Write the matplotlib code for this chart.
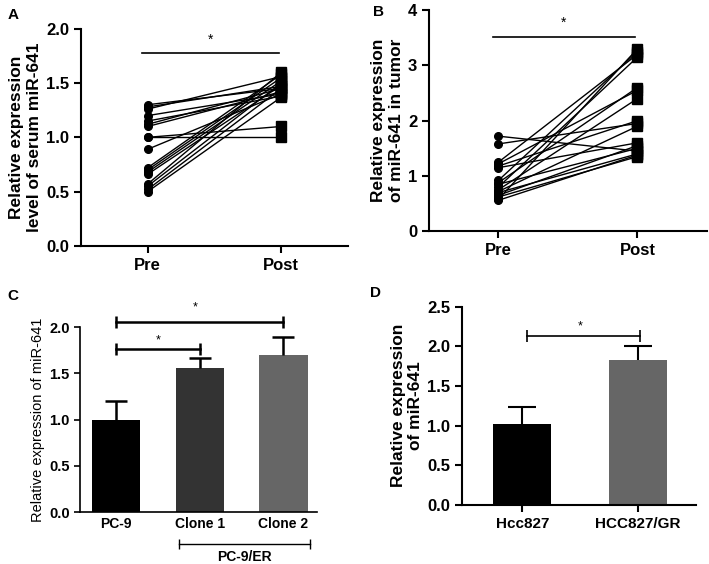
import numpy as np
import matplotlib
matplotlib.use("Agg")
import matplotlib.pyplot as plt

plt.rcParams['font.family'] = ['Liberation Sans', 'DejaVu Sans']

# A: serum miR-641, paired pre/post
a_pre = [1.30, 1.28, 1.26, 1.20, 1.15, 1.12, 1.10, 1.00, 1.00, 0.89,
         0.72, 0.70, 0.68, 0.66, 0.57, 0.55, 0.52, 0.50]
a_post = [1.45, 1.47, 1.56, 1.40, 1.38, 1.45, 1.42, 1.10, 1.00, 1.40,
          1.58, 1.55, 1.52, 1.48, 1.60, 1.50, 1.45, 1.37]

# B: tumor miR-641, paired pre/post
b_pre = [1.72, 1.58, 1.25, 1.22, 1.18, 1.15, 0.92, 0.88, 0.85, 0.80,
         0.75, 0.72, 0.70, 0.65, 0.62, 0.58, 0.56]
b_post = [1.45, 1.95, 3.20, 2.55, 2.00, 1.60, 3.25, 2.60, 1.50, 3.15,
          2.40, 1.90, 1.40, 1.55, 1.35, 3.30, 1.38]
pair_labels = ['Pre', 'Post']

# C: PC-9 cell lines
c_names = ['PC-9', 'Clone 1', 'Clone 2']
c_means = [1.00, 1.56, 1.70]
c_err = [0.20, 0.11, 0.19]
c_colors = ['#000000', '#333333', '#666666']

# D: HCC827 cell lines
d_names = ['Hcc827', 'HCC827/GR']
d_means = [1.02, 1.83]
d_err = [0.21, 0.18]
d_colors = ['#000000', '#666666']

fig = plt.figure(figsize=(7.09, 5.64), dpi=100)
fmt1 = matplotlib.ticker.FormatStrFormatter('%.1f')


def style(ax, lw=1.5, tl=5):
    ax.spines['top'].set_visible(False)
    ax.spines['right'].set_visible(False)
    ax.spines['left'].set_linewidth(lw)
    ax.spines['bottom'].set_linewidth(lw)
    ax.tick_params(width=lw, length=tl)


def upper_err(ax, x, y, err, lw, cap):
    # only the upper half of the error bar, like prism
    _, caps, _ = ax.errorbar(x, y, yerr=[np.zeros(len(y)), err], fmt='none',
                             ecolor='black', elinewidth=lw, capsize=cap, capthick=lw)
    caps[0].set_visible(False)


def paired(ax, pre, post, ylim, yticks, ylabel, sig_y, star_y):
    for p, q in zip(pre, post):
        ax.plot([0, 1], [p, q], color='black', lw=1.0)
    ax.plot(np.zeros(len(pre)), pre, 'o', color='black', ms=5.5)
    ax.plot(np.ones(len(post)), post, 's', color='black', ms=6.5)
    ax.set_xlim(-0.5, 1.5)
    ax.set_ylim(*ylim)
    ax.set_yticks(yticks)
    ax.set_xticks([0, 1])
    ax.set_xticklabels(pair_labels, fontsize=12, fontweight='bold')
    for t in ax.get_yticklabels():
        t.set_fontsize(12)
        t.set_fontweight('bold')
    ax.set_ylabel(ylabel, fontsize=12.5, fontweight='bold', linespacing=1.2,
                  labelpad=3)
    ax.plot([-0.04, 0.98], [sig_y, sig_y], color='black', lw=1.2, clip_on=False)
    ax.text(0.47, star_y, '*', ha='center', va='center', fontsize=10)
    style(ax)


# panel A
axA = fig.add_axes([0.114, 0.564, 0.377, 0.385])
paired(axA, a_pre, a_post, (0, 2.0), [0.0, 0.5, 1.0, 1.5, 2.0],
       'Relative expression\nlevel of serum miR-641', 1.78, 1.90)
axA.yaxis.set_major_formatter(fmt1)

# panel B
axB = fig.add_axes([0.605, 0.590, 0.392, 0.392])
paired(axB, b_pre, b_post, (0, 4), [0, 1, 2, 3, 4],
       'Relative expression\nof miR-641 in tumor', 3.51, 3.78)

# panel C
axC = fig.add_axes([0.113, 0.092, 0.334, 0.328])
xc = np.arange(len(c_names))
axC.bar(xc, c_means, width=0.58, color=c_colors)
upper_err(axC, xc, c_means, c_err, 1.8, 8)
axC.set_xlim(-0.43, 2.4)
axC.set_ylim(0, 2.0)
axC.set_yticks([0.0, 0.5, 1.0, 1.5, 2.0])
axC.yaxis.set_major_formatter(fmt1)
axC.set_xticks(xc)
axC.set_xticklabels(c_names, fontsize=10, fontweight='bold')
for t in axC.get_yticklabels():
    t.set_fontsize(10.5)
    t.set_fontweight('bold')
axC.set_ylabel('Relative expression of miR-641', fontsize=10.5, labelpad=3)
style(axC, lw=1.2, tl=4)
axC.tick_params(axis='x', length=0)
for y0, x1, sy in [(1.76, 1, 1.86), (2.06, 2, 2.21)]:
    axC.plot([0, x1], [y0, y0], color='black', lw=1.8, marker='|', ms=9,
             mew=1.8, clip_on=False)
    axC.text(x1 / 2 * 0.9 + 0.05, sy, '*', ha='center', va='center', fontsize=9)
trC = matplotlib.transforms.blended_transform_factory(axC.transData, axC.transAxes)
axC.plot([0.75, 2.32], [-0.17, -0.17], color='black', lw=1.0, marker='|', ms=7,
         transform=trC, clip_on=False)
axC.text(1.53, -0.245, 'PC-9/ER', transform=trC, ha='center', va='center',
         fontsize=10, fontweight='bold')

# panel D
axD = fig.add_axes([0.652, 0.105, 0.329, 0.351])
xd = np.arange(len(d_names))
axD.bar(xd, d_means, width=0.5, color=d_colors)
upper_err(axD, xd, d_means, d_err, 1.5, 10)
axD.set_xlim(-0.52, 1.5)
axD.set_ylim(0, 2.5)
axD.set_yticks([0.0, 0.5, 1.0, 1.5, 2.0, 2.5])
axD.yaxis.set_major_formatter(fmt1)
axD.set_xticks(xd)
axD.set_xticklabels(d_names, fontsize=11, fontweight='bold')
for t in axD.get_yticklabels():
    t.set_fontsize(12)
    t.set_fontweight('bold')
axD.set_ylabel('Relative expression\nof miR-641', fontsize=12.5, fontweight='bold',
               linespacing=1.2, labelpad=3)
style(axD)
axD.plot([0.04, 1.02], [2.13, 2.13], color='black', lw=1.2, marker='|', ms=9,
         mew=1.2, clip_on=False)
axD.text(0.5, 2.25, '*', ha='center', va='center', fontsize=9)

# panel letters
for lab, x, y in [('A', 0.011, 0.974), ('B', 0.526, 0.978),
                  ('C', 0.011, 0.475), ('D', 0.522, 0.480)]:
    fig.text(x, y, lab, fontsize=11, fontweight='bold', ha='left', va='center')

fig.savefig('out.png', dpi=100)
